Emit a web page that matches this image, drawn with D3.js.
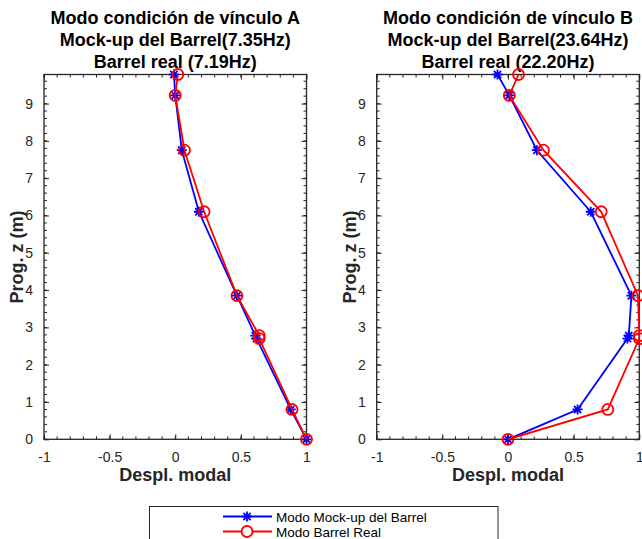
<!DOCTYPE html>
<html>
<head>
<meta charset="utf-8">
<script src="https://cdn.jsdelivr.net/npm/d3@7"></script>
<style>
  body { margin: 0; background: #fff; }
  svg { font-family: "Liberation Sans", Arial, sans-serif; }
</style>
</head>
<body>
<svg id="chart" width="642" height="539"></svg>
<script>
// heights along the barrel (m), same for both series
const zLevels = [9.78, 9.22, 7.75, 6.1, 3.85, 2.78, 2.7, 0.8, 0];

// modo A
const mockA = [-0.01, 0.0, 0.05, 0.18, 0.47, 0.61, 0.62, 0.88, 1.0];
const realA = [0.02, 0.0, 0.07, 0.22, 0.47, 0.64, 0.64, 0.89, 1.0];
// modo B
const mockB = [-0.08, 0.01, 0.22, 0.63, 0.94, 0.92, 0.91, 0.53, 0.0];
const realB = [0.08, 0.01, 0.27, 0.71, 0.99, 1.0, 1.0, 0.76, 0.0];

const titlesA = ["Modo condición de vínculo A", "Mock-up del Barrel(7.35Hz)", "Barrel real (7.19Hz)"];
const titlesB = ["Modo condición de vínculo B", "Mock-up del Barrel(23.64Hz)", "Barrel real (22.20Hz)"];
const legendLabels = ["Modo Mock-up del Barrel", "Modo Barrel Real"];

const xTicks = [-1, -0.5, 0, 0.5, 1];
const yTicks = [0, 1, 2, 3, 4, 5, 6, 7, 8, 9];

const axColor = "#262626";
const blue = "#0000ff", red = "#ff0000";

const svg = d3.select("svg#chart");

const plotTop = 74.5, plotBottom = 439.3;
const yScale = d3.scaleLinear().domain([0, 9.78]).range([plotBottom, plotTop]);

function starPath(s) {
  const d = s * 0.72;
  return `M${-s},0L${s},0M0,${-s}L0,${s}M${-d},${-d}L${d},${d}M${-d},${d}L${d},${-d}`;
}

function drawPanel(x0, x1, titles, mock, real) {
  const xScale = d3.scaleLinear().domain([-1, 1]).range([x0, x1]);
  const g = svg.append("g");

  // minor ticks
  const xMinor = d3.range(-1, 1.001, 0.1);
  const yMinor = d3.range(0, 9.78, 0.2);
  xMinor.forEach((v) => {
    const x = xScale(v);
    g.append("line").attr("x1", x).attr("x2", x).attr("y1", plotBottom).attr("y2", plotBottom - 3).attr("stroke", axColor);
    g.append("line").attr("x1", x).attr("x2", x).attr("y1", plotTop).attr("y2", plotTop + 3).attr("stroke", axColor);
  });
  yMinor.forEach((v) => {
    const y = yScale(v);
    g.append("line").attr("x1", x0).attr("x2", x0 + 3).attr("y1", y).attr("y2", y).attr("stroke", axColor);
    g.append("line").attr("x1", x1).attr("x2", x1 - 3).attr("y1", y).attr("y2", y).attr("stroke", axColor);
  });

  // axes with inward ticks, plain hyphen for negatives like matlab
  const xAxis = g.append("g").attr("transform", `translate(0,${plotBottom})`)
    .call(d3.axisBottom(xScale).tickValues(xTicks).tickSize(-5).tickPadding(13).tickFormat((d) => String(d)));
  const xAxisTop = g.append("g").attr("transform", `translate(0,${plotTop})`)
    .call(d3.axisTop(xScale).tickValues(xTicks).tickSize(-5).tickFormat(""));
  const yAxis = g.append("g").attr("transform", `translate(${x0},0)`)
    .call(d3.axisLeft(yScale).tickValues(yTicks).tickSize(-5).tickPadding(11).tickFormat((d) => String(d)));
  const yAxisR = g.append("g").attr("transform", `translate(${x1},0)`)
    .call(d3.axisRight(yScale).tickValues(yTicks).tickSize(-5).tickFormat(""));

  [xAxis, xAxisTop, yAxis, yAxisR].forEach((a) => {
    a.select(".domain").remove();
    a.selectAll(".tick line").attr("stroke", axColor);
    a.selectAll(".tick text").attr("fill", axColor).attr("font-size", 14)
      .attr("font-family", "Liberation Sans, Arial, sans-serif");
  });
  g.append("rect").attr("x", x0).attr("y", plotTop).attr("width", x1 - x0).attr("height", plotBottom - plotTop)
    .attr("fill", "none").attr("stroke", axColor).attr("stroke-width", 1.3);

  // titles
  titles.forEach((t, i) => {
    g.append("text").attr("x", (x0 + x1) / 2).attr("y", 24 + i * 22)
      .attr("text-anchor", "middle").attr("font-size", 18).attr("font-weight", "bold")
      .attr("fill", "#000").text(t);
  });

  // axis labels
  g.append("text").attr("x", (x0 + x1) / 2).attr("y", 481)
    .attr("text-anchor", "middle").attr("font-size", 18).attr("font-weight", "bold")
    .attr("fill", axColor).text("Despl. modal");
  g.append("text").attr("transform", `translate(${x0 - 21},${(plotTop + plotBottom) / 2}) rotate(-90)`)
    .attr("text-anchor", "middle").attr("font-size", 18).attr("font-weight", "bold")
    .attr("fill", axColor).text("Prog. z (m)");

  const line = d3.line().x((d) => xScale(d[0])).y((d) => yScale(d[1]));

  const mockPts = mock.map((v, i) => [v, zLevels[i]]);
  const realPts = real.map((v, i) => [v, zLevels[i]]);

  g.append("path").attr("d", line(mockPts)).attr("fill", "none").attr("stroke", blue).attr("stroke-width", 1.8);
  g.selectAll(".star").data(mockPts).enter().append("path")
    .attr("transform", (d) => `translate(${xScale(d[0])},${yScale(d[1])})`)
    .attr("d", starPath(5)).attr("stroke", blue).attr("stroke-width", 1.8).attr("fill", "none");

  g.append("path").attr("d", line(realPts)).attr("fill", "none").attr("stroke", red).attr("stroke-width", 1.8);
  g.selectAll(".circ").data(realPts).enter().append("circle")
    .attr("cx", (d) => xScale(d[0])).attr("cy", (d) => yScale(d[1])).attr("r", 5.5)
    .attr("stroke", red).attr("stroke-width", 1.8).attr("fill", "none");
}

drawPanel(44, 306.5, titlesA, mockA, realA);
drawPanel(376.7, 639.3, titlesB, mockB, realB);

// legend
const lg = svg.append("g");
lg.append("rect").attr("x", 149.5).attr("y", 506.5).attr("width", 348.5).attr("height", 60)
  .attr("fill", "#fff").attr("stroke", axColor).attr("stroke-width", 1);
const legendY = [516.5, 531.5];
const legendColors = [blue, red];
legendLabels.forEach((lab, i) => {
  const y = legendY[i];
  lg.append("line").attr("x1", 223).attr("x2", 272).attr("y1", y).attr("y2", y)
    .attr("stroke", legendColors[i]).attr("stroke-width", 1.8);
  if (i === 0) {
    lg.append("path").attr("transform", `translate(247,${y})`).attr("d", starPath(5))
      .attr("stroke", blue).attr("stroke-width", 1.8).attr("fill", "none");
  } else {
    lg.append("circle").attr("cx", 247).attr("cy", y).attr("r", 5.5)
      .attr("stroke", red).attr("stroke-width", 1.8).attr("fill", "#fff");
  }
  lg.append("text").attr("x", 276).attr("y", y + 5).attr("font-size", 13.5)
    .attr("fill", "#000").text(lab);
});
</script>
</body>
</html>
